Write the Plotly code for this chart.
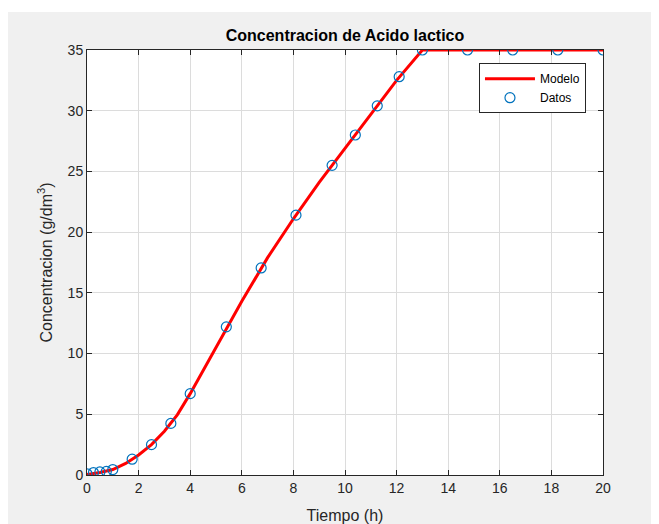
import plotly.graph_objects as go

# Data points (Datos)
datos_t = [0, 0.25, 0.5, 0.75, 1.0, 1.75, 2.5, 3.25, 4.0, 5.4, 6.75, 8.1, 9.5,
           10.4, 11.25, 12.1, 13.0, 14.75, 16.5, 18.25, 20.0]
datos_c = [0.1, 0.2, 0.25, 0.3, 0.45, 1.3, 2.5, 4.25, 6.7, 12.2, 17.05, 21.4, 25.5,
           28.0, 30.4, 32.8, 35.0, 35.0, 35.0, 35.0, 35.0]

# Model curve (Modelo)
modelo_t = [0, 0.5, 1, 1.5, 2, 2.5, 3, 3.5, 4, 4.5, 5, 6, 7, 8, 9, 10, 11, 12, 13, 20]
modelo_c = [0.05, 0.2, 0.45, 0.95, 1.65, 2.5, 3.6, 4.95, 6.7, 8.6, 10.5, 14.3, 17.9,
            21.1, 24.1, 26.9, 29.7, 32.5, 35.0, 35.0]

x_ticks = [0, 2, 4, 6, 8, 10, 12, 14, 16, 18, 20]
y_ticks = [0, 5, 10, 15, 20, 25, 30, 35]

FONT = "Liberation Sans, Arial, sans-serif"
TXT = "#262626"

fig = go.Figure()
fig.add_trace(go.Scatter(
    x=modelo_t, y=modelo_c, mode="lines", name="Modelo",
    line=dict(color="#ff0000", width=3),
))
fig.add_trace(go.Scatter(
    x=datos_t, y=datos_c, mode="markers", name="Datos",
    marker=dict(symbol="circle-open", size=10, color="#0072BD",
                line=dict(width=1.2, color="#0072BD")),
))

axis_common = dict(
    showline=True, linecolor=TXT, linewidth=1, mirror="ticks",
    ticks="inside", ticklen=5, tickcolor=TXT,
    showgrid=True, gridcolor="#dcdcdc", gridwidth=1,
    zeroline=False, automargin=False,
    tickfont=dict(family=FONT, size=14, color=TXT),
)

W, H = 651, 516
L, T, PW, PH = 79, 42, 516, 425

fig.update_layout(
    width=W, height=H,
    margin=dict(l=L, r=W - L - PW, t=T, b=H - T - PH),
    paper_bgcolor="#f0f0f0",
    plot_bgcolor="white",
    title=dict(text="<b>Concentracion de Acido lactico</b>", x=0.5, xanchor="center",
               xref="paper", y=1, yref="paper", yanchor="bottom", pad=dict(b=9),
               font=dict(family=FONT, size=16, color="black"), automargin=False),
    xaxis=dict(range=[0, 20], tickvals=x_ticks,
               title=dict(text="Tiempo (h)", font=dict(family=FONT, size=16, color=TXT), standoff=15),
               **axis_common),
    yaxis=dict(range=[0, 35], tickvals=y_ticks,
               title=dict(text="Concentracion (g/dm<sup>3</sup>)", font=dict(family=FONT, size=16, color=TXT), standoff=11),
               **axis_common),
    legend=dict(x=0.967, y=0.969, xanchor="right", yanchor="top",
                bgcolor="white", bordercolor=TXT, borderwidth=1,
                font=dict(family=FONT, size=12, color="black"),
                itemwidth=50, tracegroupgap=0),
    showlegend=True,
    shapes=[dict(type="rect", xref="paper", yref="paper",
                 x0=-L / PW, x1=(W - L) / PW, y0=(PH + T - 4) / PH, y1=(PH + T + 1) / PH,
                 fillcolor="white", line=dict(width=0), layer="above")],
)

fig.write_html("out.html")
